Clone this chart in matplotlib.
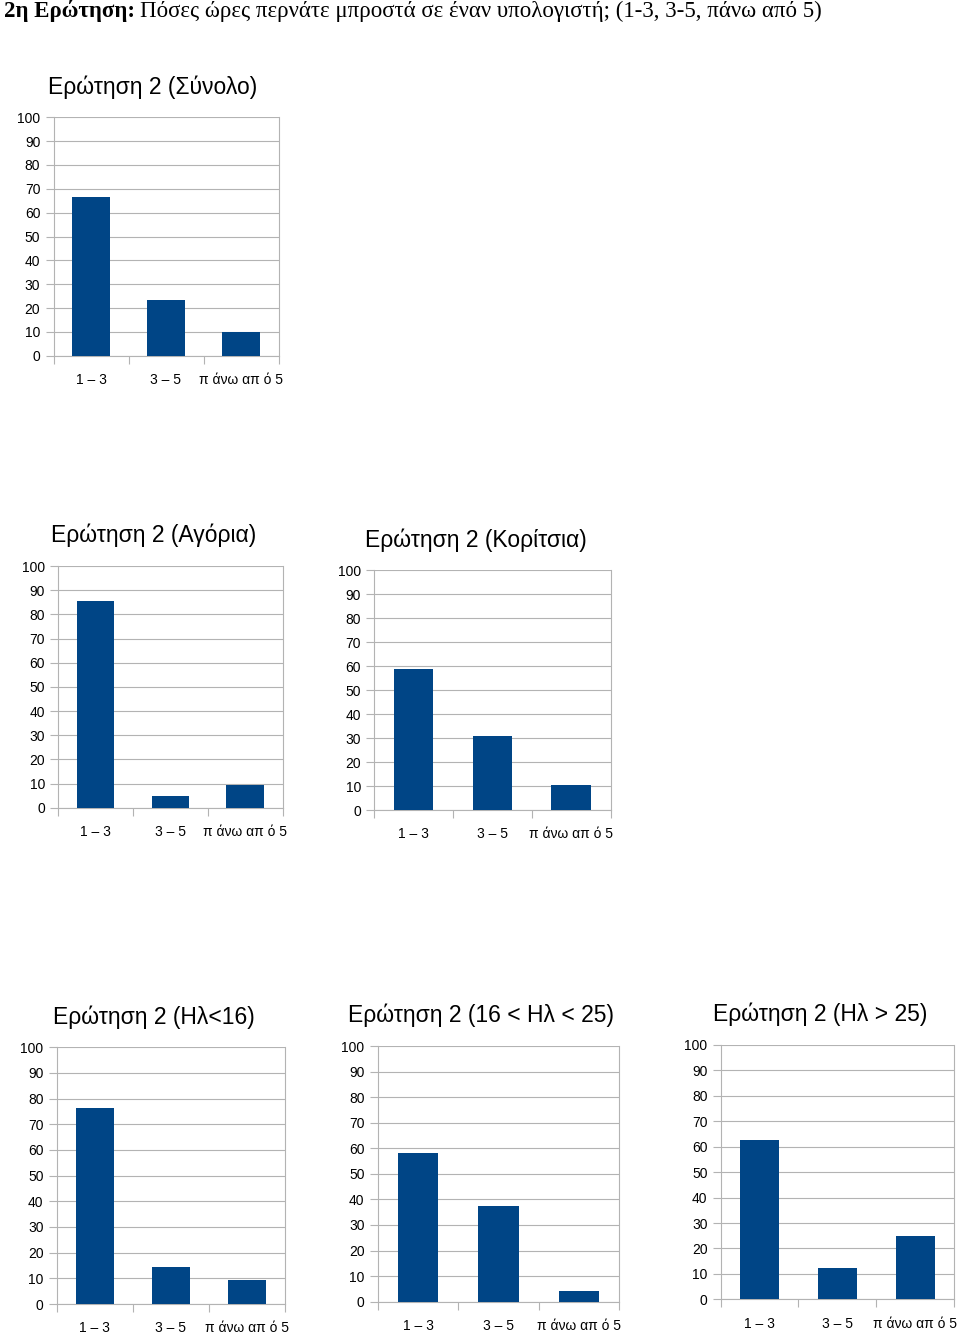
import matplotlib.pyplot as plt
import numpy as np

plt.rcParams['font.family'] = ['Liberation Sans', 'DejaVu Sans']

W, H = 960, 1335
BAR_COLOR = '#004586'
GRID_COLOR = '#b3b3b3'

categories = ['1 – 3', '3 – 5', 'π άνω απ ό 5']

titles = [
    'Ερώτηση 2 (Σύνολο)',
    'Ερώτηση 2 (Αγόρια)',
    'Ερώτηση 2 (Κορίτσια)',
    'Ερώτηση 2 (Ηλ<16)',
    'Ερώτηση 2 (16 < Ηλ < 25)',
    'Ερώτηση 2 (Ηλ > 25)',
]

total = [66.7, 23.5, 9.8]
boys = [85.7, 4.8, 9.5]
girls = [58.6, 31.0, 10.3]
age_under16 = [76.2, 14.3, 9.5]
age_16_25 = [58.3, 37.5, 4.2]
age_over25 = [62.5, 12.5, 25.0]

series = [total, boys, girls, age_under16, age_16_25, age_over25]

# plot box in pixels: left, right, y of 100, y of 0
boxes = [
    (53.5, 278.5, 117.3, 355.7),
    (58.3, 282.5, 566.0, 807.7),
    (374.4, 610.5, 570.0, 810.0),
    (56.7, 285.0, 1047.3, 1304.0),
    (377.7, 619.3, 1046.0, 1301.7),
    (720.7, 954.0, 1045.0, 1299.3),
]
# title centre x, baseline y
title_pos = [(153, 94), (154, 542), (476, 547), (154, 1024), (481, 1022), (820, 1021)]

fig = plt.figure(figsize=(W / 100, H / 100), dpi=100)

for vals, title, (l, r, t, b), (tx, ty) in zip(series, titles, boxes, title_pos):
    ax = fig.add_axes([l / W, 1 - b / H, (r - l) / W, (b - t) / H])
    x = np.arange(len(categories))
    ax.bar(x, vals, width=0.5, color=BAR_COLOR, zorder=3)
    ax.set_xlim(-0.5, 2.5)
    ax.set_ylim(0, 100)
    ax.set_yticks(np.arange(0, 101, 10))
    ax.yaxis.grid(True, color=GRID_COLOR, linewidth=0.8, zorder=0)
    ax.tick_params(axis='y', length=6, width=0.8, color=GRID_COLOR, labelsize=10, pad=3.5)
    ax.set_xticks(x)
    ax.set_xticklabels(categories)
    ax.tick_params(axis='x', which='major', length=0, labelsize=10, pad=12.5)
    ax.set_xticks([-0.5, 0.5, 1.5, 2.5], minor=True)
    ax.tick_params(axis='x', which='minor', length=6, width=0.8, color=GRID_COLOR)
    for side in ['left', 'right', 'bottom']:
        ax.spines[side].set_color(GRID_COLOR)
        ax.spines[side].set_linewidth(0.8)
    ax.spines['top'].set_visible(False)
    fig.text(tx / W, 1 - ty / H, title, ha='center', va='baseline', fontsize=16.5)

# header line: bold part then regular part
renderer = fig.canvas.get_renderer()
serif = ['Liberation Serif', 'DejaVu Serif']
bold = fig.text(4 / W, 1 - 16.5 / H, '2η Ερώτηση:', fontsize=16.5, fontweight='bold',
                family=serif, va='baseline')
bb = bold.get_window_extent(renderer)
fig.text((bb.x1 + 5) / W, 1 - 16.5 / H,
         'Πόσες ώρες περνάτε μπροστά σε έναν υπολογιστή; (1-3, 3-5, πάνω από 5)',
         fontsize=16.5, family=serif, va='baseline')

fig.savefig('out.png', dpi=100, facecolor='white')
